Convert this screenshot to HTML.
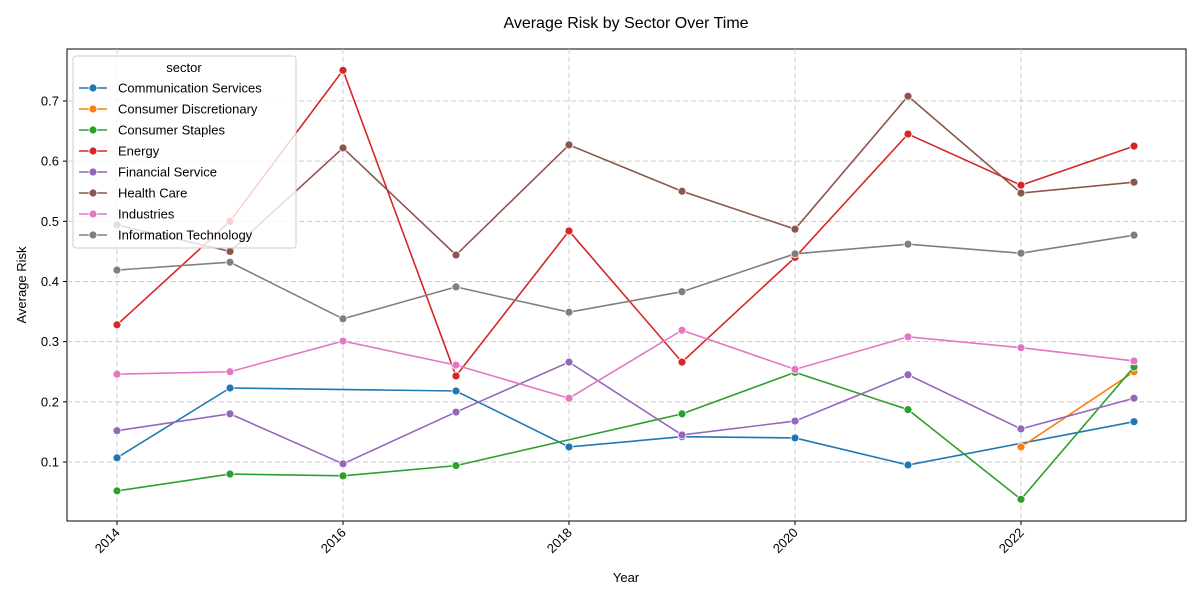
<!DOCTYPE html>
<html><head><meta charset="utf-8"><style>
body{margin:0;background:#fff;font-family:"Liberation Sans","DejaVu Sans",sans-serif;}
svg text{font-family:"Liberation Sans","DejaVu Sans",sans-serif;}
</style></head><body>
<svg id="chart" width="1200" height="600" xmlns="http://www.w3.org/2000/svg">
<text x="626" y="28" text-anchor="middle" font-size="16" fill="#000">Average Risk by Sector Over Time</text>
<rect x="67" y="49" width="1119" height="472" fill="none" stroke="#000" stroke-width="1"/>
<g id="grid"></g><g id="axes"></g><g id="series"></g><g id="legend"></g>
<text x="626" y="582" text-anchor="middle" font-size="13">Year</text>
<text transform="translate(26,285) rotate(-90)" text-anchor="middle" font-size="13">Average Risk</text>
</svg>
<script>
const years=[2014,2015,2016,2017,2018,2019,2020,2021,2022,2023];
const xTicks=[2014,2016,2018,2020,2022];
const yTicks=[0.1,0.2,0.3,0.4,0.5,0.6,0.7];
const sectors=["Communication Services","Consumer Discretionary","Consumer Staples","Energy","Financial Service","Health Care","Industries","Information Technology"];
const colors=["#1f77b4","#ff7f0e","#2ca02c","#d62728","#9467bd","#8c564b","#e377c2","#7f7f7f"];
const commServices=[0.107,0.223,null,0.218,0.125,0.142,0.140,0.095,null,0.167];
const consDiscretionary=[null,null,null,null,null,null,null,null,0.125,0.250];
const consStaples=[0.052,0.080,0.077,0.094,null,0.180,0.249,0.187,0.038,0.258];
const energy=[0.328,0.500,0.751,0.243,0.484,0.266,0.440,0.645,0.560,0.625];
const financial=[0.152,0.180,0.097,0.183,0.266,0.145,0.168,0.245,0.155,0.206];
const healthCare=[0.494,0.450,0.622,0.444,0.627,0.550,0.487,0.708,0.547,0.565];
const industries=[0.246,0.250,0.301,0.261,0.206,0.319,0.254,0.308,0.290,0.268];
const infoTech=[0.419,0.432,0.338,0.391,0.349,0.383,0.446,0.462,0.447,0.477];
const seriesValues=[commServices,consDiscretionary,consStaples,energy,financial,healthCare,industries,infoTech];

const NS="http://www.w3.org/2000/svg";
const X=y=>117+(y-2014)*113;
const Y=v=>462-(v-0.1)*601.7;
function mk(tag,attrs,parent){const e=document.createElementNS(NS,tag);for(const k in attrs)e.setAttribute(k,attrs[k]);parent.appendChild(e);return e;}
const grid=document.getElementById('grid'),axes=document.getElementById('axes'),ser=document.getElementById('series'),leg=document.getElementById('legend');
xTicks.forEach(t=>{
 const g=mk('line',{x1:X(t),x2:X(t),y1:49,y2:521,stroke:'#cccccc','stroke-dasharray':'5,3','stroke-width':1},grid);
 
 
 mk('line',{x1:X(t),x2:X(t),y1:521,y2:525,stroke:'#000'},axes);
 const tx=mk('text',{x:X(t)+4,y:530,'font-size':13,'text-anchor':'end',transform:`rotate(-45 ${X(t)+8} 532)`},axes);
 tx.textContent=t;
 
 
});
yTicks.forEach(t=>{
 const g=mk('line',{x1:67,x2:1186,y1:Y(t),y2:Y(t),stroke:'#cccccc','stroke-dasharray':'5,3','stroke-width':1},grid);
 
 
 mk('line',{x1:63,x2:67,y1:Y(t),y2:Y(t),stroke:'#000'},axes);
 const tx=mk('text',{x:59,y:Y(t)+4.5,'font-size':13,'text-anchor':'end'},axes);
 tx.textContent=t.toFixed(1);
 
 
});
seriesValues.forEach((vals,i)=>{
 const pts=[];vals.forEach((v,j)=>{if(v!==null)pts.push([X(years[j]),Y(v)]);});
 const p=mk('polyline',{points:pts.map(p=>p.join(',')).join(' '),fill:'none',stroke:colors[i],'stroke-width':1.6},ser);
 
 
 pts.forEach(pt=>{
  const c=mk('circle',{cx:pt[0],cy:pt[1],r:4,fill:colors[i],stroke:'#fff','stroke-width':0.8},ser);
  
  
 });
});
const box=mk('rect',{x:73,y:56,width:223,height:192,rx:3,fill:'#fff','fill-opacity':0.8,stroke:'#ccc'},leg);


const lt=mk('text',{x:184,y:72,'font-size':13,'text-anchor':'middle'},leg);
lt.textContent='sector';


sectors.forEach((s,i)=>{
 const y=88+i*21;
 mk('line',{x1:79,x2:107,y1:y,y2:y,stroke:colors[i],'stroke-width':1.6},leg);
 mk('circle',{cx:93,cy:y,r:4,fill:colors[i],stroke:'#fff','stroke-width':0.8},leg);
 const t=mk('text',{x:118,y:y+4.5,'font-size':13},leg);
 t.textContent=s;
 
 
});
</script>
</body></html>
